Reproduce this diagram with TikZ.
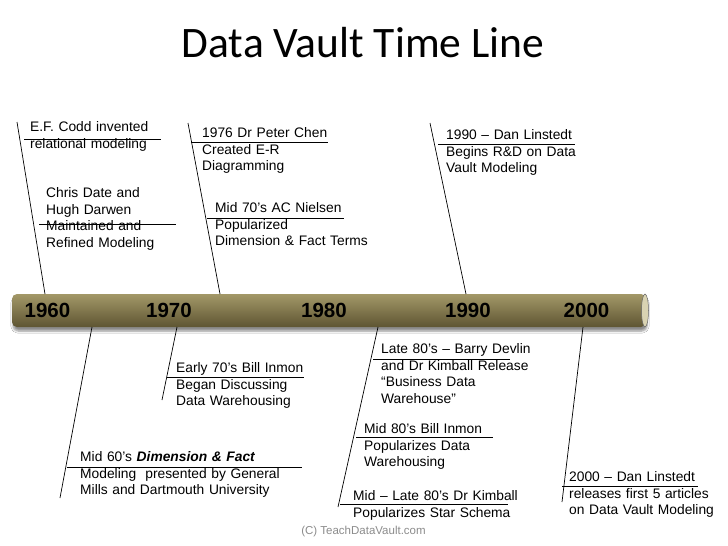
\documentclass[tikz,border=0pt]{standalone}
\usepackage{fontspec}
\setmainfont{Liberation Sans}
\newfontfamily\titlefont{Carlito}
\usetikzlibrary{shadows.blur,shapes.geometric}
\definecolor{barTop}{HTML}{A39868}
\definecolor{barMid}{HTML}{8A7E4C}
\definecolor{barBot}{HTML}{5E5532}
\definecolor{capCol}{HTML}{D9D3B2}
\definecolor{footGray}{HTML}{8C8C8C}
\tikzset{
  evt/.style={anchor=base west, inner sep=0pt, text width=250pt, align=left,
    font=\fontsize{13.8}{16.6}\selectfont},
  conn/.style={draw=black, line width=0.7pt},
  year/.style={font=\bfseries\fontsize{20.5}{24}\selectfont, inner sep=0pt, text=black}
}
\begin{document}
\begin{tikzpicture}[x=1pt,y=-1pt]
\useasboundingbox[fill=white] (0,0) rectangle (728,546);

% title
\node[font=\titlefont\fontsize{43.5}{50}\selectfont, anchor=base, inner sep=0pt] (title) at (363,57) {Data Vault Time Line};

% timeline bar
\path[blur shadow={shadow xshift=1pt, shadow yshift=-4pt, shadow blur steps=6, shadow opacity=45},
      top color=barTop, middle color=barMid, bottom color=barBot, rounded corners=5pt]
  (12,294) rectangle (646,327);
\node[draw=gray!80!black, line width=0.5pt, fill=capCol, ellipse, inner sep=0pt,
      minimum width=7pt, minimum height=33pt] (cap) at (645,310.5) {};

% years
\node[year] (y1960) at (47.5,310) {1960};
\node[year] (y1970) at (169,310) {1970};
\node[year] (y1980) at (324,310) {1980};
\node[year] (y1990) at (468,310) {1990};
\node[year] (y2000) at (586.5,310) {2000};

% connector coordinates
\coordinate (c1a) at (17,122);   \coordinate (c1b) at (45,294);
\coordinate (u1a) at (24,139);   \coordinate (u1b) at (161,139);
\coordinate (u2a) at (39,224);   \coordinate (u2b) at (176,224);
\coordinate (c3a) at (188,123);  \coordinate (c3b) at (220,294);
\coordinate (u3a) at (191,142);  \coordinate (u3b) at (328,142);
\coordinate (u4a) at (207,218);  \coordinate (u4b) at (344,218);
\coordinate (c5a) at (430,123);  \coordinate (c5b) at (466,294);
\coordinate (u5a) at (438,144);  \coordinate (u5b) at (575,144);
\coordinate (c6a) at (92,327);   \coordinate (c6b) at (60,498);
\coordinate (u6a) at (67,467);   \coordinate (u6b) at (302,467);
\coordinate (c7a) at (177,327);  \coordinate (c7b) at (162,400);
\coordinate (u7a) at (167,377);  \coordinate (u7b) at (304,377);
\coordinate (c8a) at (378,327);  \coordinate (c8b) at (338,507);
\coordinate (u8a) at (340,504);  \coordinate (u8b) at (508,504);
\coordinate (u9a) at (356,437);  \coordinate (u9b) at (493,437);
\coordinate (u10a) at (373,359); \coordinate (u10b) at (510,359);
\coordinate (c11a) at (583,327); \coordinate (c11b) at (562,502);
\coordinate (u11a) at (562,486); \coordinate (u11b) at (698,486);

\draw[conn] (c1a) -- (c1b);  \draw[conn] (u1a) -- (u1b);
\draw[conn] (u2a) -- (u2b);
\draw[conn] (c3a) -- (c3b);  \draw[conn] (u3a) -- (u3b);
\draw[conn] (u4a) -- (u4b);
\draw[conn] (c5a) -- (c5b);  \draw[conn] (u5a) -- (u5b);
\draw[conn] (c6a) -- (c6b);  \draw[conn] (u6a) -- (u6b);
\draw[conn] (c7a) -- (c7b);  \draw[conn] (u7a) -- (u7b);
\draw[conn] (c8a) -- (c8b);  \draw[conn] (u8a) -- (u8b);
\draw[conn] (u9a) -- (u9b);
\draw[conn] (u10a) -- (u10b);
\draw[conn] (c11a) -- (c11b); \draw[conn] (u11a) -- (u11b);

% events above
\node[evt] (codd) at (30,131.5) {E.F. Codd invented\\relational modeling};
\node[evt] (date) at (46,197.5) {Chris Date and\\Hugh Darwen\\Maintained and\\Refined Modeling};
\node[evt] (chen) at (202,137.5) {1976 Dr Peter Chen\\Created E-R\\Diagramming};
\node[evt] (niel) at (215,212.5) {Mid 70’s AC Nielsen\\Popularized\\Dimension \& Fact Terms};
\node[evt] (dan90) at (446,139.5) {1990 – Dan Linstedt\\Begins R\&D on Data\\Vault Modeling};

% events below
\node[evt] (mid60) at (80,461.5) {Mid 60’s \textbf{\textit{Dimension \& Fact}}\\Modeling\ \ presented by General\\Mills and Dartmouth University};
\node[evt] (early70) at (176,372.5) {Early 70’s Bill Inmon\\Began Discussing\\Data Warehousing};
\node[evt] (kimball) at (353,500.5) {Mid – Late 80’s Dr Kimball\\Popularizes Star Schema};
\node[evt] (inmon80) at (364,433.5) {Mid 80’s Bill Inmon\\Popularizes Data\\Warehousing};
\node[evt] (devlin) at (381,353.5) {Late 80’s – Barry Devlin\\and Dr Kimball Release\\“Business Data\\Warehouse”};
\node[evt] (dan00) at (569,481.5) {2000 – Dan Linstedt\\releases first 5 articles\\on Data Vault Modeling};

% footer
\node[anchor=base, inner sep=0pt, text=footGray, font=\fontsize{11.5}{14}\selectfont] (foot) at (363.5,534) {(C) TeachDataVault.com};
\end{tikzpicture}
\end{document}
